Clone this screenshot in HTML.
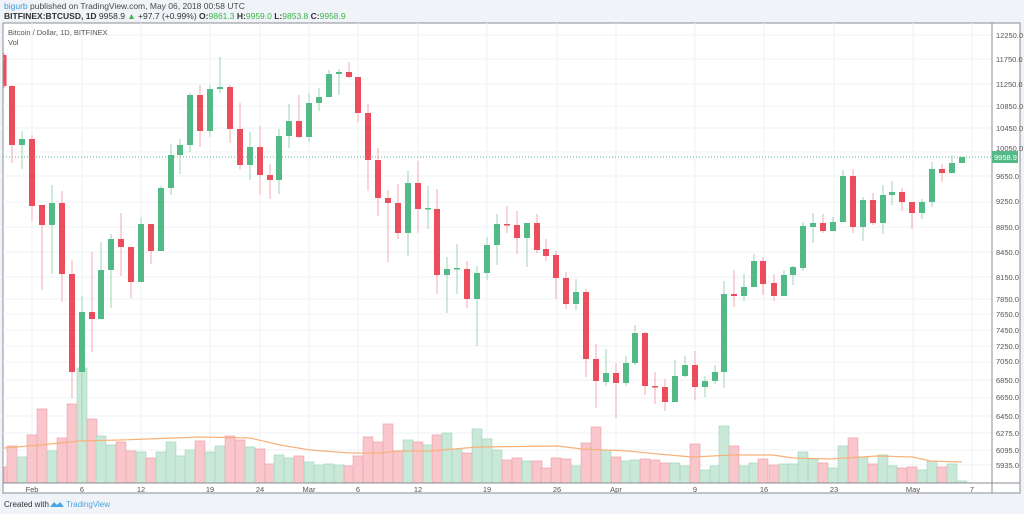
<!DOCTYPE html>
<html><head><meta charset="utf-8"><style>
html,body{margin:0;padding:0;background:#f0f3f7;width:1024px;height:514px;overflow:hidden;font-family:"Liberation Sans",sans-serif}
.t{position:absolute;white-space:nowrap}
</style></head><body>
<div class="t" style="left:4px;top:1px;font-size:8.5px;color:#4a4a4a"><span style="color:#3c9ae0">bigurb</span> published on TradingView.com, May 06, 2018 00:58 UTC</div>
<div class="t" style="left:4px;top:11px;font-size:8.5px;color:#333"><b>BITFINEX:BTCUSD, 1D</b> 9958.9 <span style="color:#3bb54a">▲</span> +97.7 (+0.99%) <b>O:</b><span style="color:#3bb54a">9861.3</span> <b>H:</b><span style="color:#3bb54a">9959.0</span> <b>L:</b><span style="color:#3bb54a">9853.8</span> <b>C:</b><span style="color:#3bb54a">9958.9</span></div>
<svg id="s" width="1024" height="514" style="position:absolute;left:0;top:0" xmlns="http://www.w3.org/2000/svg">
<rect x="3" y="23" width="1017" height="470" fill="#fff" stroke="#8a8d93" stroke-width="1"/>
<g id="grid" stroke="#edf1f5" stroke-width="1"></g>
<g id="vol"></g>
<polyline fill="none" stroke="#f7b27a" stroke-width="1.2" points="4,448 40,445 80,441 120,440 200,437 250,438 280,445 310,450 350,453 380,453 400,451 430,451 478,447 558,446 582,449 628,451 658,454 692,457 733,455 773,455 793,458 830,459 877,456 913,457 930,461 962,462"/>
<line x1="3" y1="157" x2="992" y2="157" stroke="#53b987" stroke-width="1" stroke-dasharray="1,2"/>
<g id="cd"></g>
<line x1="992" y1="23" x2="992" y2="493" stroke="#8a8d93"/>
<line x1="3" y1="483" x2="1020" y2="483" stroke="#8a8d93"/>
<rect x="992" y="151" width="26" height="12" fill="#53b987"/>
<text x="994" y="160" font-size="7.5" fill="#fff" font-family="Liberation Sans">9958.9</text>
<g font-size="7.5" fill="#555" font-family="Liberation Sans">
<text x="996" y="38">12250.0</text><text x="996" y="62">11750.0</text><text x="996" y="87">11250.0</text><text x="996" y="109">10850.0</text><text x="996" y="131">10450.0</text><text x="996" y="151">10050.0</text><text x="996" y="179">9650.0</text><text x="996" y="204">9250.0</text><text x="996" y="230">8850.0</text><text x="996" y="255">8450.0</text><text x="996" y="280">8150.0</text><text x="996" y="302">7850.0</text><text x="996" y="317">7650.0</text><text x="996" y="333">7450.0</text><text x="996" y="349">7250.0</text><text x="996" y="364">7050.0</text><text x="996" y="383">6850.0</text><text x="996" y="400">6650.0</text><text x="996" y="419">6450.0</text><text x="996" y="436">6275.0</text><text x="996" y="453">6095.0</text><text x="996" y="468">5935.0</text>
</g>
<g font-size="7.5" fill="#555" font-family="Liberation Sans" text-anchor="middle">
<text x="32" y="492">Feb</text><text x="82" y="492">6</text><text x="141" y="492">12</text><text x="210" y="492">19</text><text x="260" y="492">24</text><text x="309" y="492">Mar</text><text x="358" y="492">6</text><text x="418" y="492">12</text><text x="487" y="492">19</text><text x="557" y="492">26</text><text x="616" y="492">Apr</text><text x="695" y="492">9</text><text x="764" y="492">16</text><text x="834" y="492">23</text><text x="913" y="492">May</text><text x="972" y="492">7</text>
</g>
<text x="8" y="35" font-size="7.5" fill="#555" font-family="Liberation Sans">Bitcoin / Dollar, 1D, BITFINEX</text>
<text x="8" y="45" font-size="7.5" fill="#555" font-family="Liberation Sans">Vol</text>
<text x="4" y="507" font-size="8" fill="#333" font-family="Liberation Sans">Created with</text>
<path d="M50,507 l4,-5 l3,3 l3,-3 l4,5 z" fill="#48a6e6"/>
<text x="66" y="507" font-size="8" fill="#48a6e6" font-family="Liberation Sans">TradingView</text>
</svg>
<script>
var NS="http://www.w3.org/2000/svg";
function el(p,t,a){var e=document.createElementNS(NS,t);for(var k in a)e.setAttribute(k,a[k]);p.appendChild(e);}
var g=document.getElementById('grid');
[35,59,84,106,128,152,176,202,227,252,277,299,314,330,346,362,380,398,416,433,450,465].forEach(function(y){el(g,'line',{x1:3,x2:992,y1:y,y2:y});});
[32,82,141,210,260,309,358,418,487,557,616,695,764,834,913,972].forEach(function(x){el(g,'line',{x1:x,x2:x,y1:23,y2:483});});
var c=[[4,55,86,53,88,'r'],[12,86,145,85,163,'r'],[22,139,145,131,169,'g'],[32,139,206,135,221,'r'],[42,205,225,205,290,'r'],[52,203,225,185,274,'g'],[62,203,274,191,302,'r'],[72,274,372,260,398,'r'],[82,312,372,296,440,'g'],[92,312,319,252,352,'r'],[101,270,319,242,319,'g'],[111,239,270,234,308,'g'],[121,239,247,213,276,'r'],[131,247,282,247,298,'r'],[141,224,282,217,282,'g'],[151,224,251,224,264,'r'],[161,188,251,186,251,'g'],[171,155,188,144,195,'g'],[180,145,155,139,174,'g'],[190,95,145,93,152,'g'],[200,95,131,85,147,'r'],[210,89,131,85,137,'g'],[220,87,89,57,93,'g'],[230,87,129,85,143,'r'],[240,129,165,103,170,'r'],[250,147,165,132,180,'g'],[260,147,175,126,195,'r'],[270,175,180,164,199,'r'],[279,136,180,129,194,'g'],[289,121,136,104,148,'g'],[299,121,137,95,138,'r'],[309,103,137,93,142,'g'],[319,97,103,88,111,'g'],[329,74,97,70,97,'g'],[339,72,74,69,95,'g'],[349,72,77,62,78,'r'],[358,77,113,77,122,'r'],[368,113,160,104,191,'r'],[378,160,198,148,216,'r'],[388,198,203,190,262,'r'],[398,203,233,184,239,'r'],[408,183,233,171,256,'g'],[418,183,209,161,233,'r'],[428,208,209,186,229,'g'],[437,209,275,189,294,'r'],[447,269,275,257,313,'g'],[457,268,269,244,294,'g'],[467,269,299,261,308,'r'],[477,273,299,266,346,'g'],[487,245,273,237,280,'g'],[497,224,245,214,265,'g'],[507,224,225,206,233,'r'],[517,225,238,211,254,'r'],[527,223,238,223,267,'g'],[537,223,250,214,253,'r'],[546,249,256,239,261,'r'],[556,255,278,251,299,'r'],[566,278,304,272,309,'r'],[576,292,304,279,310,'g'],[586,292,359,289,377,'r'],[596,359,381,344,408,'r'],[606,373,382,349,386,'g'],[616,373,383,363,418,'r'],[626,363,383,356,386,'g'],[635,333,363,325,365,'g'],[645,333,386,332,395,'r'],[655,386,387,372,404,'r'],[665,387,402,379,411,'r'],[675,376,402,360,402,'g'],[685,365,376,356,377,'g'],[695,365,387,351,400,'r'],[705,381,387,376,397,'g'],[715,372,381,365,384,'g'],[724,294,372,281,388,'g'],[734,294,296,270,307,'r'],[744,287,296,274,301,'g'],[754,261,287,254,287,'g'],[763,261,284,257,295,'r'],[774,283,296,274,301,'r'],[784,275,296,270,296,'g'],[793,267,275,266,285,'g'],[803,226,268,222,271,'g'],[813,223,227,213,243,'g'],[823,223,231,214,233,'r'],[833,222,231,217,231,'g'],[843,176,222,170,222,'g'],[853,176,227,169,233,'r'],[863,200,227,197,241,'g'],[873,200,223,193,225,'r'],[883,195,223,185,234,'g'],[892,192,195,181,205,'g'],[902,192,202,188,211,'r'],[912,202,213,202,229,'r'],[922,202,213,199,219,'g'],[932,169,202,162,207,'g'],[942,169,173,164,182,'r'],[952,163,173,155,173,'g'],[962,157,163,157,163,'g']];
var v=[467,446,457,435,409,451,438,404,368,419,436,445,442,451,452,458,452,442,456,450,441,452,446,436,440,447,449,464,455,458,456,462,465,464,465,466,456,437,442,424,451,440,442,445,435,433,449,453,429,439,450,460,458,461,461,468,458,459,466,443,427,450,457,461,460,459,460,463,463,466,444,470,466,426,446,466,463,459,465,464,464,452,459,463,468,446,438,457,464,455,466,468,467,470,461,467,464,481];
var vg=document.getElementById('vol'),cg=document.getElementById('cd');
c.forEach(function(d,i){
 var up=d[5]=='g';
 var t=v[i]||470;
 var x0=Math.max(4,d[0]-4.9);
 el(vg,'rect',{x:x0,y:t,width:d[0]+4.9-x0,height:483-t,fill:up?'#c9e8d8':'#f8c6cb',stroke:up?'#a9dbc1':'#f1a9b1','stroke-width':0.8});
 el(cg,'line',{x1:d[0],x2:d[0],y1:d[3],y2:d[4],stroke:up?'#9dd4b8':'#f3a9b1','stroke-width':1});
 var h=Math.max(1.5,d[2]-d[1]);
 el(cg,'rect',{x:Math.max(3.5,d[0]-3),y:d[1],width:d[0]==4?3:6,height:h,fill:up?'#53b987':'#eb4d5c'});
});
</script>
</body></html>
